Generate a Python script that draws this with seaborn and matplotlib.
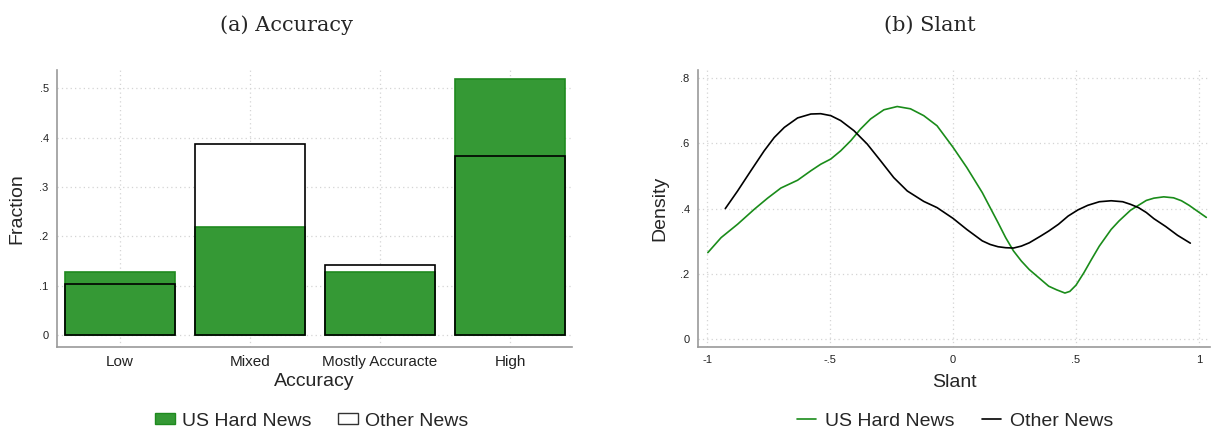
import matplotlib
matplotlib.use("Agg")
import matplotlib.pyplot as plt
from matplotlib.patches import Patch
from matplotlib.lines import Line2D
import seaborn as sns
import pandas as pd

sns.set_theme(style="white")
plt.rcParams["font.family"] = ["Liberation Sans", "DejaVu Sans"]

# ---- Panel (a): share of outlets by accuracy rating ----
categories = ["Low", "Mixed", "Mostly Accuracte", "High"]
us_hard_frac = [0.128, 0.220, 0.128, 0.519]
other_frac = [0.103, 0.388, 0.142, 0.363]
frac_ticks = [0, 0.1, 0.2, 0.3, 0.4, 0.5]
frac_labels = ["0", ".1", ".2", ".3", ".4", ".5"]

# ---- Panel (b): density of slant ----
us_hard_slant = [-0.997, -0.943, -0.876, -0.808, -0.754, -0.700, -0.632, -0.578,
                 -0.538, -0.497, -0.457, -0.416, -0.376, -0.335, -0.281, -0.227,
                 -0.173, -0.119, -0.065, 0.0, 0.056, 0.119, 0.151, 0.183, 0.214,
                 0.246, 0.278, 0.310, 0.341, 0.389, 0.421, 0.455, 0.475, 0.5,
                 0.532, 0.563, 0.595, 0.643, 0.675, 0.722, 0.786, 0.817, 0.857,
                 0.897, 0.929, 0.960, 0.992, 1.03]
us_hard_density = [0.265, 0.311, 0.352, 0.398, 0.432, 0.463, 0.487, 0.516,
                   0.536, 0.552, 0.577, 0.608, 0.644, 0.675, 0.703, 0.713,
                   0.706, 0.685, 0.654, 0.588, 0.526, 0.449, 0.403, 0.357, 0.311,
                   0.270, 0.239, 0.213, 0.193, 0.162, 0.151, 0.141, 0.146, 0.165,
                   0.203, 0.244, 0.285, 0.336, 0.362, 0.395, 0.425, 0.432, 0.436,
                   0.433, 0.424, 0.410, 0.393, 0.373]
other_slant = [-0.926, -0.876, -0.822, -0.768, -0.727, -0.686, -0.632, -0.578,
               -0.538, -0.497, -0.457, -0.403, -0.349, -0.295, -0.241, -0.186,
               -0.119, -0.065, 0.0, 0.056, 0.119, 0.151, 0.183, 0.214, 0.246,
               0.278, 0.310, 0.357, 0.389, 0.429, 0.468, 0.508, 0.548, 0.595,
               0.643, 0.690, 0.722, 0.754, 0.786, 0.817, 0.865, 0.913, 0.965]
other_density = [0.400, 0.454, 0.516, 0.577, 0.618, 0.649, 0.678, 0.690,
                 0.691, 0.685, 0.670, 0.639, 0.598, 0.547, 0.495, 0.454,
                 0.422, 0.403, 0.370, 0.336, 0.301, 0.290, 0.283, 0.280, 0.279,
                 0.285, 0.295, 0.316, 0.331, 0.352, 0.377, 0.396, 0.410, 0.421,
                 0.424, 0.421, 0.413, 0.403, 0.388, 0.369, 0.345, 0.318, 0.294]
slant_ticks = [-1, -0.5, 0, 0.5, 1]
slant_labels = ["-1", "-.5", "0", ".5", "1"]
dens_ticks = [0, 0.2, 0.4, 0.6, 0.8]
dens_labels = ["0", ".2", ".4", ".6", ".8"]

GREEN_FILL = "#359935"
GREEN_EDGE = "#1f8a1f"
GREEN_LINE = "#1a8c1a"
SPINE = "#9a9a9a"
GRID = "#d4d4d4"

fig = plt.figure(figsize=(12.12, 4.32), dpi=100)
ax1 = fig.add_axes([57 / 1212, 1 - 347 / 432, 515 / 1212, 277 / 432])
ax2 = fig.add_axes([698 / 1212, 1 - 347 / 432, 512 / 1212, 277 / 432])

df_acc = pd.DataFrame({"cat": categories, "us": us_hard_frac, "other": other_frac})
bar_w = 0.846

# white body of the other-news bars, green bars above it, outlines on top
sns.barplot(data=df_acc, x="cat", y="other", order=categories, color="white",
            width=bar_w, linewidth=0, saturation=1, ax=ax1, zorder=2)
sns.barplot(data=df_acc, x="cat", y="us", order=categories, color=GREEN_FILL,
            width=bar_w, edgecolor=GREEN_EDGE, linewidth=1.2, saturation=1,
            ax=ax1, zorder=3)
sns.barplot(data=df_acc, x="cat", y="other", order=categories, color="black",
            width=bar_w, fill=False, linewidth=1.2, ax=ax1, zorder=4)

ax1.set_xlim(-0.485, 3.477)
ax1.set_ylim(-0.024, 0.537)
ax1.set_yticks(frac_ticks)
ax1.set_yticklabels(frac_labels)
ax1.set_xlabel("Accuracy", fontsize=14, labelpad=3)
ax1.set_ylabel("Fraction", fontsize=14, labelpad=10)

sns.lineplot(x=us_hard_slant, y=us_hard_density, color=GREEN_LINE, linewidth=1.2,
             ax=ax2, zorder=3)
sns.lineplot(x=other_slant, y=other_density, color="black", linewidth=1.2,
             ax=ax2, zorder=3)
ax2.set_xlim(-1.037, 1.045)
ax2.set_ylim(-0.0245, 0.825)
ax2.set_xticks(slant_ticks)
ax2.set_xticklabels(slant_labels)
ax2.set_yticks(dens_ticks)
ax2.set_yticklabels(dens_labels)
ax2.set_xlabel("Slant", fontsize=14, labelpad=6)
ax2.set_ylabel("Density", fontsize=14, labelpad=9)

for ax in (ax1, ax2):
    for side in ("top", "right"):
        ax.spines[side].set_visible(False)
    for side in ("left", "bottom"):
        ax.spines[side].set_color(SPINE)
        ax.spines[side].set_linewidth(1.2)
    ax.tick_params(axis="both", which="both", direction="out", length=4,
                   width=1, color=SPINE, labelsize=8, pad=2, labelcolor="#222222")
    ax.grid(True, linestyle=(0, (1, 2.5)), color=GRID, linewidth=0.9, zorder=0)
    ax.set_axisbelow(True)

ax1.tick_params(axis="x", labelsize=11)

# subfigure captions
fig.text(287 / 1212, 1 - 25 / 432, "(a) Accuracy", ha="center", va="center",
         fontsize=15, family=["DejaVu Serif"])
fig.text(930 / 1212, 1 - 25 / 432, "(b) Slant", ha="center", va="center",
         fontsize=15, family=["DejaVu Serif"])

bar_handles = [Patch(facecolor=GREEN_FILL, edgecolor=GREEN_EDGE, label="US Hard News"),
               Patch(facecolor="white", edgecolor="#333333", label="Other News")]
fig.legend(handles=bar_handles, loc="center", bbox_to_anchor=(312 / 1212, 1 - 421 / 432),
           ncol=2, frameon=False, fontsize=14, handlelength=1.0, handleheight=0.5,
           columnspacing=1.35, handletextpad=0.4)

line_handles = [Line2D([], [], color=GREEN_LINE, linewidth=1.2, label="US Hard News"),
                Line2D([], [], color="black", linewidth=1.2, label="Other News")]
fig.legend(handles=line_handles, loc="center", bbox_to_anchor=(955 / 1212, 1 - 421 / 432),
           ncol=2, frameon=False, fontsize=14, handlelength=1.0,
           columnspacing=1.4, handletextpad=0.45)

fig.savefig("out.png", dpi=100, facecolor="white")
